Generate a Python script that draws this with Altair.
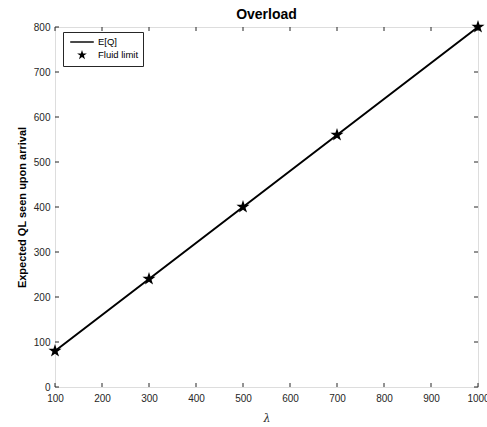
import altair as alt
import pandas as pd

# ---- data ----
lam = [100, 300, 500, 700, 1000]
eq_values = [80, 240, 400, 560, 800]
fluid_values = [80, 240, 400, 560, 800]
x_ticks = [100, 200, 300, 400, 500, 600, 700, 800, 900, 1000]
y_ticks = [0, 100, 200, 300, 400, 500, 600, 700, 800]
series_names = ["E[Q]", "Fluid limit"]

W, H = 423, 360
INK = "#262626"
FONT = "Liberation Sans"
STAR = ("M0,-1L0.2245,-0.309L0.9511,-0.309L0.3633,0.118L0.5878,0.809L0,0.382"
        "L-0.5878,0.809L-0.3633,0.118L-0.9511,-0.309L-0.2245,-0.309Z")
LINE_SYM = "M-2.3,-0.14L2.3,-0.14L2.3,0.14L-2.3,0.14Z"

line_df = pd.DataFrame({"lam": lam, "v": eq_values, "series": series_names[0]})
pt_df = pd.DataFrame({"lam": lam, "v": fluid_values, "series": series_names[1]})
xt_df = pd.DataFrame({"t": x_ticks})
yt_df = pd.DataFrame({"t": y_ticks})

xscale = alt.Scale(domain=[100, 1000], nice=False, zero=False)
yscale = alt.Scale(domain=[0, 800], nice=False)

x_axis = alt.Axis(values=x_ticks, grid=False, ticks=False, domain=False, format="d",
                  labelFont=FONT, labelFontSize=10, labelColor=INK, labelPadding=6,
                  title="λ", titleFont="DejaVu Serif", titleFontStyle="italic",
                  titleFontWeight="normal", titleFontSize=11, titleColor=INK,
                  titlePadding=9, labelFlush=False)
y_axis = alt.Axis(values=y_ticks, grid=False, ticks=False, domain=False, format="d",
                  labelFont=FONT, labelFontSize=10, labelColor=INK, labelPadding=5,
                  title="Expected QL seen upon arrival", titleFont=FONT,
                  titleFontWeight="bold", titleFontSize=11, titleColor="black",
                  titlePadding=6, labelFlush=False)

line = alt.Chart(line_df).mark_line(color="black", strokeWidth=2).encode(
    x=alt.X("lam:Q", scale=xscale, axis=x_axis),
    y=alt.Y("v:Q", scale=yscale, axis=y_axis),
)

points = alt.Chart(pt_df).mark_point(filled=True, color="black", opacity=1,
                                     size=190).encode(
    x=alt.X("lam:Q", scale=xscale),
    y=alt.Y("v:Q", scale=yscale),
    shape=alt.Shape("series:N",
                    scale=alt.Scale(domain=series_names, range=[LINE_SYM, STAR]),
                    legend=alt.Legend(title=None, orient="none", legendX=8, legendY=5,
                                      labelFont=FONT, labelFontSize=9.5, labelColor="black",
                                      symbolSize=105, symbolFillColor="black",
                                      symbolStrokeColor="black", symbolStrokeWidth=1,
                                      symbolOffset=9, labelOffset=10, rowPadding=0,
                                      padding=4, strokeColor=INK, fillColor="white",
                                      cornerRadius=0)),
)

tb = alt.Chart(xt_df).mark_rule(color=INK, strokeWidth=1).encode(
    x=alt.X("t:Q", scale=xscale), y=alt.value(H), y2=alt.value(H - 4))
tt = alt.Chart(xt_df).mark_rule(color=INK, strokeWidth=1).encode(
    x=alt.X("t:Q", scale=xscale), y=alt.value(0), y2=alt.value(4))
tl = alt.Chart(yt_df).mark_rule(color=INK, strokeWidth=1).encode(
    y=alt.Y("t:Q", scale=yscale), x=alt.value(0), x2=alt.value(4))
tr = alt.Chart(yt_df).mark_rule(color=INK, strokeWidth=1).encode(
    y=alt.Y("t:Q", scale=yscale), x=alt.value(W), x2=alt.value(W - 4))

chart = alt.layer(tb, tt, tl, tr, line, points).properties(
    width=W, height=H,
    title=alt.TitleParams("Overload", font=FONT, fontSize=14, fontWeight="bold",
                          color="black", anchor="middle", offset=-2),
    autosize=alt.AutoSizeParams(type="none"),
    padding={"left": 55, "top": 27, "right": 9, "bottom": 40},
).configure_view(stroke=INK, strokeWidth=1).configure(background="white")

chart.save("out.html", embed_options={"renderer": "svg", "actions": False})
